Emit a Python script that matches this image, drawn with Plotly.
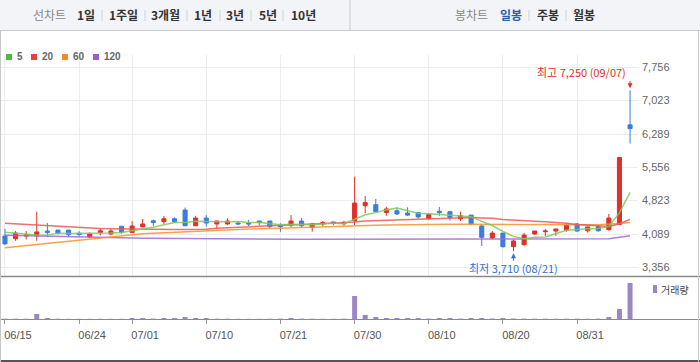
import plotly.graph_objects as go
import pandas as pd

W, H = 700, 362
PLOT_R = 638  # right edge of plot area in px

dates = ["2020-06-15","2020-06-16","2020-06-17","2020-06-18","2020-06-19","2020-06-22","2020-06-23","2020-06-24","2020-06-25","2020-06-26",
         "2020-06-29","2020-06-30","2020-07-01","2020-07-02","2020-07-03","2020-07-06","2020-07-07","2020-07-08","2020-07-09","2020-07-10",
         "2020-07-13","2020-07-14","2020-07-15","2020-07-16","2020-07-17","2020-07-20","2020-07-21","2020-07-22","2020-07-23","2020-07-24",
         "2020-07-27","2020-07-28","2020-07-29","2020-07-30","2020-07-31","2020-08-03","2020-08-04","2020-08-05","2020-08-06","2020-08-07",
         "2020-08-10","2020-08-11","2020-08-12","2020-08-13","2020-08-14","2020-08-18","2020-08-19","2020-08-20","2020-08-21","2020-08-24",
         "2020-08-25","2020-08-26","2020-08-27","2020-08-28","2020-08-31","2020-09-01","2020-09-02","2020-09-03","2020-09-04","2020-09-07"]

opens = [4045,3985,4045,4045,4155,4175,4175,4105,4025,4120,
         4090,4260,4120,4245,4380,4360,4425,4615,4270,4440,
         4310,4310,4330,4330,4375,4375,4280,4285,4375,4230,
         4310,4355,4315,4380,4710,4735,4560,4600,4550,4560,
         4425,4590,4580,4420,4505,4265,4000,4110,3810,3855,
         4090,4140,4155,4175,4310,4160,4250,4185,4300,6490]
highs = [4200,4155,4155,4580,4330,4180,4175,4150,4125,4220,
         4200,4260,4375,4420,4405,4485,4455,4670,4490,4505,
         4375,4435,4375,4395,4375,4375,4325,4505,4440,4325,
         4375,4355,4380,5350,4925,4860,4690,4675,4675,4560,
         4520,4685,4600,4580,4505,4285,4155,4110,3970,4110,
         4155,4200,4200,4330,4330,4245,4280,4530,5770,7250]
lows = [3860,3940,3970,3940,4030,4080,4030,4030,4000,4060,
        4060,4095,4115,4240,4265,4310,4340,4270,4270,4250,
        4215,4285,4285,4265,4280,4215,4140,4235,4235,4140,
        4260,4280,4270,4285,4545,4580,4490,4505,4485,4425,
        4405,4490,4380,4375,4285,3825,3980,3790,3710,3830,
        4065,4045,4050,4140,4140,4120,4140,4160,4300,6080]
closes = [3870,4110,4065,4135,4120,4110,4075,4080,4090,4160,
          4155,4125,4265,4310,4340,4425,4360,4270,4440,4330,
          4375,4375,4310,4310,4340,4250,4250,4375,4270,4310,
          4340,4325,4340,4770,4780,4580,4640,4530,4505,4465,
          4520,4560,4450,4490,4315,4015,4110,3810,3935,4065,
          4155,4155,4200,4280,4155,4245,4160,4440,5770,6410]
volumes = [30,30,30,500,100,30,20,20,20,20,
           20,20,100,100,40,100,100,200,100,100,
           30,30,20,20,20,30,40,100,40,30,
           20,20,30,2300,400,200,100,100,100,100,
           40,100,100,40,100,100,50,100,50,40,
           30,30,30,30,30,30,40,200,1000,3600]

# moving-average values before a full window exists
ma5_head = [4125,4105,4080,4065]
ma20_head = [4324,4310,4295,4280,4265,4252,4240,4230,4220,4212,
             4205,4200,4195,4192,4190,4190,4190,4190,4190]
ma60 = [3785,3810,3835,3860,3885,3910,3935,3960,3985,4010,
        4035,4058,4080,4095,4108,4120,4132,4143,4153,4163,
        4172,4181,4190,4198,4206,4213,4220,4227,4234,4240,
        4246,4252,4258,4266,4274,4281,4287,4292,4296,4299,
        4301,4302,4302,4302,4300,4297,4295,4292,4290,4290,
        4290,4290,4290,4291,4291,4292,4293,4298,4318,4342]
ma120 = [4060,4054,4048,4042,4036,4030,4023,4016,4012,4008,
         4005,4003,4001,3998,3995,3992,3989,3986,3983,3980,
         3977,3975,3973,3972,3972,3972,3972,3972,3972,3972,
         3972,3972,3972,3972,3972,3972,3972,3972,3972,3972,
         3972,3972,3972,3972,3972,3972,3972,3972,3972,3972,
         3972,3972,3972,3972,3972,3975,3978,3982,4015,4050]

price_ticks = [3356, 4089, 4823, 5556, 6289, 7023, 7756]
date_ticks = ["2020-06-15","2020-06-24","2020-07-01","2020-07-10","2020-07-21",
              "2020-07-30","2020-08-10","2020-08-20","2020-08-31"]
date_tick_labels = ["06/15","06/24","07/01","07/10","07/21","07/30","08/10","08/20","08/31"]

cs = pd.Series(closes, dtype=float)
ma5 = ma5_head + cs.rolling(5).mean().round(0).tolist()[4:]
ma20 = ma20_head + cs.rolling(20).mean().round(0).tolist()[19:]

RED = "#e0302a"
BLUE = "#3a7ddf"
GREEN = "#7cc95a"
MRED = "#ec5656"
ORANGE = "#f5922c"
PURPLE = "#a466d4"
VOL = "#9b86c6"

fig = go.Figure()
for vals, col in [(ma120, PURPLE), (ma60, ORANGE), (ma20, MRED), (ma5, GREEN)]:
    fig.add_trace(go.Scatter(x=dates, y=vals, mode="lines", line=dict(color=col, width=1.5),
                             opacity=0.85, xaxis="x", yaxis="y", hoverinfo="skip", showlegend=False))

fig.add_trace(go.Candlestick(
    x=dates, open=opens, high=highs, low=lows, close=closes,
    increasing=dict(line=dict(color=RED, width=1), fillcolor=RED),
    decreasing=dict(line=dict(color=BLUE, width=1), fillcolor=BLUE),
    whiskerwidth=0, xaxis="x", yaxis="y", hoverinfo="skip", showlegend=False))

fig.add_trace(go.Bar(x=dates, y=volumes, marker=dict(color=VOL, line=dict(width=0)), width=0.47,
                     xaxis="x2", yaxis="y2", hoverinfo="skip", showlegend=False))

def px2p(x, y):
    return x / PLOT_R, 1 - y / H

ymin = 4089 - (276 - 234) * 22.0
ymax = 4089 + (234 - 55) * 22.0

fig.update_layout(
    width=W, height=H, margin=dict(l=0, r=W - PLOT_R, t=0, b=0),
    paper_bgcolor="white", plot_bgcolor="white", showlegend=False, boxgap=0.45,
    hovermode=False,
    xaxis=dict(type="category", range=[-0.47, 59.75], domain=[0, 1], anchor="y",
               tickmode="array", tickvals=date_ticks, showticklabels=False, ticks="",
               showgrid=True, gridcolor="#ececec", gridwidth=1, zeroline=False, showline=False,
               rangeslider=dict(visible=False), fixedrange=True),
    yaxis=dict(domain=[1 - 276 / H, 1 - 55 / H], range=[ymin, ymax], side="right", anchor="x",
               tickmode="array", tickvals=price_ticks, ticktext=[f"{v:,}" for v in price_ticks],
               tickfont=dict(family="Liberation Sans, Arial", size=11, color="#666"),
               showgrid=True, gridcolor="#ececec", zeroline=False, showline=False, ticks="",
               ticklabelstandoff=3, fixedrange=True),
    xaxis2=dict(type="category", matches="x", anchor="y2", domain=[0, 1],
                tickmode="array", tickvals=date_ticks, ticktext=date_tick_labels,
                tickfont=dict(family="Liberation Sans, Arial", size=11, color="#555"),
                ticks="outside", ticklen=4, tickcolor="#999", showgrid=False, zeroline=False,
                showline=False, ticklabelshift=13, ticklabelstandoff=2),
    yaxis2=dict(domain=[1 - 319 / H, 1 - 277 / H], range=[0, 4200], anchor="x2",
                showticklabels=False, showgrid=False, zeroline=False, showline=False, fixedrange=True),
)

shapes = []
def rect(x0, y0, x1, y1, fill, line=None):
    a, b = px2p(x0, y0); c, d = px2p(x1, y1)
    shapes.append(dict(type="rect", xref="paper", yref="paper", x0=a, y0=d, x1=c, y1=b,
                       fillcolor=fill, line=dict(width=0), layer="below" if line is None else "above"))
def hline(y, x0, x1, col, w=1):
    a, b = px2p(x0, y); c, _ = px2p(x1, y)
    shapes.append(dict(type="line", xref="paper", yref="paper", x0=a, x1=c, y0=b, y1=b,
                       line=dict(color=col, width=w)))
def vline(x, y0, y1, col, w=1):
    a, b = px2p(x, y0); _, d = px2p(x, y1)
    shapes.append(dict(type="line", xref="paper", yref="paper", x0=a, x1=a, y0=b, y1=d,
                       line=dict(color=col, width=w)))

# header
rect(0, 0, W, 30, "#f3f4f7")
hline(30.5, 0, W, "#c9cbd1")
vline(350, 0, 30, "#c9cbd1")
for sx in [102, 145, 187, 220, 251, 283, 529, 566]:
    vline(sx, 10, 21, "#d0d2d8")
# panel separators and borders
hline(276.5, 0, W, "#8a8a8a", 1.5)
hline(319.5, 0, W, "#8a8a8a", 1)
hline(361, 0, W, "#555555", 2)
vline(0.5, 30, H, "#c8c8c8")
vline(698.5, 30, H, "#c8c8c8")

annotations = []
def text(x, y, s, size=12, color="#333", anchor="center", bold=False, family="Noto Sans CJK KR"):
    a, b = px2p(x, y)
    annotations.append(dict(xref="paper", yref="paper", x=a, y=b, text=f"<b>{s}</b>" if bold else s,
                            showarrow=False, xanchor=anchor, yanchor="middle",
                            font=dict(family=family, size=size, color=color)))

text(49, 15, "선차트", 12, "#888")
for cx, s in [(86, "1일"), (123, "1주일"), (165.5, "3개월"), (202.5, "1년"), (235, "3년"), (267.5, "5년"), (303, "10년")]:
    text(cx, 15, s, 12, "#333", bold=True)
text(471, 15, "봉차트", 12, "#888")
text(511, 15, "일봉", 12, "#2b5bb5", bold=True)
text(547.5, 15, "주봉", 12, "#333", bold=True)
text(584, 15, "월봉", 12, "#333", bold=True)

# price legend
for x0, col, lab in [(6, "#4cb93a", "5"), (31, "#ee4040", "20"), (62, "#f58a1f", "60"), (93, "#9a5fd0", "120")]:
    rect(x0, 54, x0 + 6, 60, col, line=True)
    text(x0 + 9, 57, lab, 10, "#666", anchor="left", family="Liberation Sans, Arial", bold=True)

# volume legend
rect(653, 285, 657, 293, VOL, line=True)
text(659, 289, "거래량", 10, "#444", anchor="left")

# high / low markers
a, b = px2p(628, 72)
annotations.append(dict(xref="paper", yref="paper", x=a, y=b, text="최고 7,250 (09/07)", showarrow=False,
                        xanchor="right", yanchor="middle", font=dict(family="Noto Sans CJK KR", size=11, color=RED)))
annotations.append(dict(xref="x", yref="y", x=dates[59], y=7250, text="", showarrow=True, ax=0, ay=-11,
                        arrowhead=2, arrowsize=1, arrowwidth=1, arrowcolor=RED, standoff=2))
a, b = px2p(0, 268)
annotations.append(dict(xref="x", yref="paper", x=dates[48], y=b, text="최저 3,710 (08/21)", showarrow=False,
                        xanchor="center", yanchor="middle", font=dict(family="Noto Sans CJK KR", size=11, color="#2f6fd6")))
annotations.append(dict(xref="x", yref="y", x=dates[48], y=3710, text="", showarrow=True, ax=0, ay=11,
                        arrowhead=2, arrowsize=1, arrowwidth=1, arrowcolor="#2f6fd6", standoff=2))

fig.update_layout(shapes=shapes, annotations=annotations)
fig.write_html("out.html", config={"displayModeBar": False, "staticPlot": True},
               post_script="document.body.style.margin='0';document.body.style.overflow='hidden';")
